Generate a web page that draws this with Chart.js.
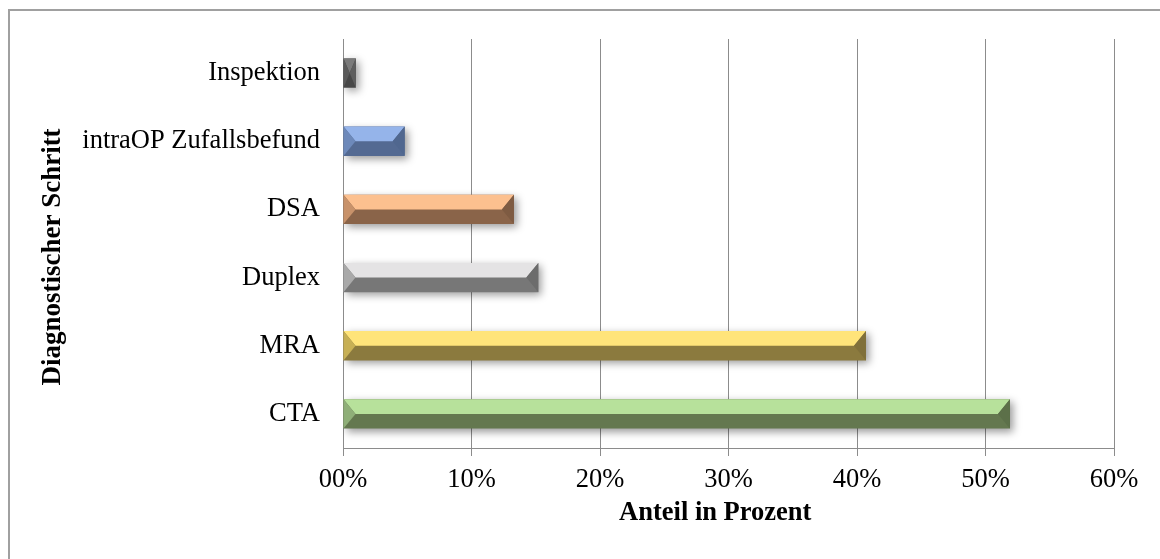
<!DOCTYPE html>
<html>
<head>
<meta charset="utf-8">
<script src="https://cdn.jsdelivr.net/npm/chart.js@4"></script>
<style>
  html, body { margin: 0; padding: 0; background: #fff; }
  #wrap { width: 1160px; height: 559px; }
</style>
</head>
<body>
<div id="wrap"><canvas id="chart" width="1160" height="559"></canvas></div>
<script>
// Diagnostischer Schritt, Anteil in Prozent
const categories = ['Inspektion', 'intraOP Zufallsbefund', 'DSA', 'Duplex', 'MRA', 'CTA']
const shares = [1.0, 4.8, 13.3, 15.2, 40.7, 51.9]
const tickLabels = ['00%', '10%', '20%', '30%', '40%', '50%', '60%']

// bevel colours per bar: top face, lower face, left end, right end
const topColors = ['#7a7a7a', '#95b4ea', '#fcc08f', '#e4e3e4', '#ffe47a', '#b7e19b']
const lowColors = ['#474747', '#546a92', '#8a6449', '#777777', '#8b7a3e', '#64784f']
const leftColors = ['#5a5a5a', '#6d89ba', '#c8926a', '#a9a9a9', '#c7b055', '#8faf78']
const rightColors = ['#5e5e5e', '#50678f', '#7e5b42', '#6c6c6c', '#80703a', '#5c7049']

const serif = "'Liberation Serif', 'Times New Roman', serif"

const frame = {
    id: 'frame',
    beforeDraw(chart) {
        let ctx = chart.ctx
        ctx.save()
        ctx.strokeStyle = '#a0a0a0'
        ctx.lineWidth = 2
        ctx.beginPath()
        ctx.moveTo(9, 559)
        ctx.lineTo(9, 10)
        ctx.lineTo(1160, 10)
        ctx.stroke()
        ctx.restore()
    }
}

const bevel = {
    id: 'bevel',
    beforeDatasetsDraw(chart) {
        let ctx = chart.ctx
        ctx.save()
        ctx.shadowColor = 'rgba(0,0,0,0.4)'
        ctx.shadowBlur = 8
        ctx.shadowOffsetX = 3
        ctx.shadowOffsetY = 3
    },
    afterDatasetsDraw(chart) {
        let ctx = chart.ctx
        ctx.restore()
        let meta = chart.getDatasetMeta(0)
        meta.data.forEach(function (bar, i) {
            let p = bar.getProps(['x', 'y', 'base', 'height'], true)
            let left = p.base, right = p.x
            let top = p.y - p.height / 2, bottom = p.y + p.height / 2, mid = p.y
            let b = Math.min(12, (right - left) / 2)

            ctx.save()
            ctx.fillStyle = topColors[i]
            ctx.beginPath()
            ctx.moveTo(left, top)
            ctx.lineTo(right, top)
            ctx.lineTo(right - b, mid)
            ctx.lineTo(left + b, mid)
            ctx.closePath()
            ctx.fill()

            ctx.fillStyle = leftColors[i]
            ctx.beginPath()
            ctx.moveTo(left, top)
            ctx.lineTo(left + b, mid)
            ctx.lineTo(left, bottom)
            ctx.closePath()
            ctx.fill()

            ctx.fillStyle = rightColors[i]
            ctx.beginPath()
            ctx.moveTo(right, top)
            ctx.lineTo(right, bottom)
            ctx.lineTo(right - b, mid)
            ctx.closePath()
            ctx.fill()
            ctx.restore()
        })
    }
}

let ctx = document.getElementById('chart').getContext('2d')

let barChart = new Chart(ctx, {
    type: 'bar',
    data: {
        labels: categories,
        datasets: [{
            data: shares,
            backgroundColor: lowColors,
            borderWidth: 0,
            categoryPercentage: 1,
            barPercentage: 0.43
        }]
    },
    options: {
        indexAxis: 'y',
        responsive: false,
        animation: false,
        layout: { padding: { top: 39, right: 46, left: 0, bottom: 0 } },
        plugins: {
            legend: { display: false },
            tooltip: { enabled: false }
        },
        scales: {
            x: {
                min: 0,
                max: 60,
                ticks: {
                    stepSize: 10,
                    color: '#000',
                    padding: 8,
                    maxRotation: 0,
                    font: { family: serif, size: 26.5 },
                    callback: function (value, index) { return tickLabels[index] }
                },
                grid: { color: '#8c8c8c', lineWidth: 1, tickLength: 8, tickColor: '#8c8c8c' },
                border: { color: '#8c8c8c' },
                title: {
                    display: true,
                    // trailing spaces nudge the centred title a little to the left, as in the original
                    text: 'Anteil in Prozent    ',
                    color: '#000',
                    font: { family: serif, size: 26.5, weight: 'bold' },
                    padding: { top: 0, bottom: 30 }
                },
                afterFit: function (scale) { scale.height = 111 }
            },
            y: {
                ticks: {
                    color: '#000',
                    padding: 23,
                    font: { family: serif, size: 26.5 }
                },
                grid: { display: false, drawTicks: false },
                border: { color: '#8c8c8c' },
                title: {
                    display: true,
                    text: 'Diagnostischer Schritt    ',
                    color: '#000',
                    font: { family: serif, size: 27, weight: 'bold' },
                    padding: { top: 37, bottom: 0 }
                },
                afterFit: function (scale) { scale.width = 343 }
            }
        }
    },
    plugins: [frame, bevel]
});
</script>
</body>
</html>
